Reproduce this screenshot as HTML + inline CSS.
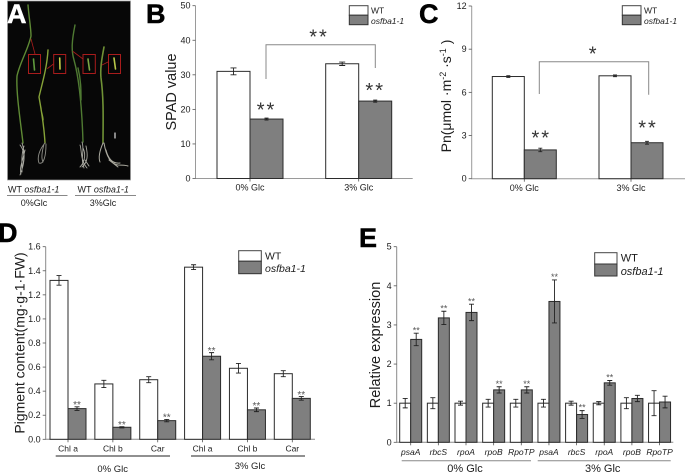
<!DOCTYPE html>
<html>
<head>
<meta charset="utf-8">
<style>
html,body{margin:0;padding:0;background:#fff;width:685px;height:475px;overflow:hidden}
svg{display:block;font-family:"Liberation Sans",sans-serif;filter:blur(0.3px)}
text{fill:#1c1c1c}
.letter{font-weight:bold;font-size:27px;fill:#000;stroke:#000;stroke-width:0.5px}
</style>
</head>
<body>
<svg id="fig" xmlns="http://www.w3.org/2000/svg" width="685" height="475" viewBox="0 0 685 475">
  <defs><filter id="soft" x="-5%" y="-5%" width="110%" height="110%"><feGaussianBlur stdDeviation="0.3"/></filter></defs>
  <g id="photo">
    <rect x="7.5" y="1" width="123" height="179" fill="#070707" stroke="#999" stroke-width="0.7"/>
    <g filter="url(#soft)" fill="none" stroke-linecap="round">
      <path d="M28 5 C29 18 31 28 31 36 C28 50 20 62 17 76 C16 92 20 118 23 143" stroke="#5f8a34" stroke-width="1.4"/>
      <path d="M48 50 C47 68 42 84 39 97 C41 108 44 125 45 143 M41 108 C41 112 43 116 43 120" stroke="#86a338" stroke-width="1.4"/>
      <path d="M75 25 C72 40 71 50 74 60 C79 78 82 110 83 142 M78 68 C81 80 81 90 81 100" stroke="#4f7a32" stroke-width="1.4"/>
      <path d="M104 47 C102 58 100 68 101 78 C104 100 103 125 103 143" stroke="#6f9236" stroke-width="1.6"/>
      <path d="M22 143 C26 155 24 165 20 175 M24 146 C21 155 22 165 22 172 M20 145 C24 150 25 158 22 168 M25 150 C23 160 19 168 21 174" stroke="#a8a8a0" stroke-width="0.9"/>
      <path d="M45 143 C39 150 37 158 39 163 C44 165 46 155 46 144 M44 144 C42 152 41 158 43 162" stroke="#8f8f88" stroke-width="0.9"/>
      <path d="M82 142 C85 150 80 158 84 168 M86 146 C88 155 88 162 82 167 M80 145 C82 150 80 160 87 168 M83 148 C87 156 83 164 80 167 M85 160 L89 166" stroke="#a8a8a0" stroke-width="0.9"/>
      <path d="M103 143 C100 150 98 157 100 162 M104 143 C106 155 110 164 118 165 C122 165 125 165 128 166 M106 150 C108 158 112 164 120 163 M109 160 L118 167" stroke="#aaa99e" stroke-width="1"/>
      <path d="M115 133 V138" stroke="#ddd" stroke-width="1.2"/>
      <path d="M31 39 L35 54 M47.500 68.500 L53.500 64 M73 51.500 L83 59 M102 65 L108 62" stroke="#a81c1c" stroke-width="0.8"/>
      <path d="M33.500 59 L34.500 70" stroke="#5f9a3c" stroke-width="1.6"/>
      <path d="M59.700 58 L60 69" stroke="#c8d048" stroke-width="1.6"/>
      <path d="M88 59 L89.500 70" stroke="#7ba844" stroke-width="1.6"/>
      <path d="M114 58 L115.500 69" stroke="#b8c848" stroke-width="1.6"/>
    </g>
    <g fill="none" stroke="#a81c1c" stroke-width="1">
      <rect x="28.500" y="54.500" width="12" height="19"/>
      <rect x="53.700" y="54.500" width="12" height="19"/>
      <rect x="83" y="54.500" width="12.300" height="19"/>
      <rect x="108.500" y="54.500" width="12" height="19"/>
    </g>
    <text x="8" y="192.500" font-size="9">WT <tspan font-style="italic">osfba1-1</tspan></text>
    <text x="77.500" y="192.500" font-size="9">WT <tspan font-style="italic">osfba1-1</tspan></text>
    <path d="M7 195.500 H67.500 M75 195.500 H136" stroke="#888" stroke-width="1" fill="none"/>
    <text x="34" y="206" font-size="9" text-anchor="middle">0%Glc</text>
    <text x="103" y="206" font-size="9" text-anchor="middle">3%Glc</text>
  </g>
  <text class="letter" x="7" y="23" style="fill:#fff;stroke:#fff">A</text>
  <text class="letter" x="146" y="23">B</text>
  <text class="letter" x="419" y="23">C</text>
  <text class="letter" x="-2" y="242">D</text>
  <text class="letter" x="359" y="247">E</text>
</svg>
<script>
// Panel B: SPAD value
const bGroups = ['0% Glc', '3% Glc'];
const bTicks = [0, 10, 20, 30, 40, 50];
const bWT = [31, 33.2];
const bWTErr = [1, 0.5];
const bMut = [17.2, 22.4];
const bMutErr = [0.3, 0.3];

// Panel C: photosynthesis rate
const cGroups = ['0% Glc', '3% Glc'];
const cTicks = [0, 3, 6, 9, 12];
const cWT = [7.1, 7.15];
const cWTErr = [0.06, 0.06];
const cMut = [2, 2.5];
const cMutErr = [0.12, 0.1];

// Panel D: pigment content
const dCategories = ['Chl a', 'Chl b', 'Car', 'Chl a', 'Chl b', 'Car'];
const dTicks = ['0.0', '0.2', '0.4', '0.6', '0.8', '1.0', '1.2', '1.4', '1.6'];
const dWT = [1.32, 0.46, 0.495, 1.43, 0.59, 0.545];
const dWTErr = [0.04, 0.03, 0.025, 0.02, 0.04, 0.025];
const dMut = [0.255, 0.1, 0.155, 0.69, 0.245, 0.34];
const dMutErr = [0.015, 0.005, 0.01, 0.03, 0.015, 0.015];
const dStars = ['**', '**', '**', '**', '**', '**'];

// Panel E: relative expression
const eCategories = ['psaA', 'rbcS', 'rpoA', 'rpoB', 'RpoTP', 'psaA', 'rbcS', 'rpoA', 'rpoB', 'RpoTP'];
const eTicks = [0, 1, 2, 3, 4, 5];
const eWT = [1, 1, 1, 1, 1, 1, 1, 1, 1, 1];
const eWTErr = [0.12, 0.14, 0.05, 0.1, 0.1, 0.1, 0.05, 0.04, 0.14, 0.32];
const eMut = [2.63, 3.18, 3.32, 1.34, 1.34, 3.6, 0.71, 1.52, 1.12, 1.03];
const eMutErr = [0.16, 0.17, 0.21, 0.08, 0.08, 0.55, 0.1, 0.06, 0.08, 0.15];
const eStars = ['**', '**', '**', '**', '**', '**', '**', '**', '', ''];

const svg = document.getElementById('fig');
const NS = 'http://www.w3.org/2000/svg';

function mk(tag, parent, props, txt) {
  const el = document.createElementNS(NS, tag);
  for (const k in props) el.setAttribute(k, props[k]);
  if (txt !== undefined) el.textContent = txt;
  parent.appendChild(el);
  return el;
}

function linear(d0, d1, r0, r1) {
  return v => r0 + (v - d0) * (r1 - r0) / (d1 - d0);
}

function label(parent, name, x, y, size, txt, anchor, italic) {
  const el = mk('text', parent, { x: x, y: y, 'font-size': size, 'text-anchor': anchor || 'middle', 'font-style': italic ? 'italic' : 'normal' }, txt);
  
  
  return el;
}

function stars(parent, name, cx, cy, size, txt, gap, color) {
  const el = mk('text', parent, { x: cx, y: cy + size * 0.57, 'font-size': size, 'text-anchor': 'middle', 'letter-spacing': gap, fill: color }, txt);
  el.style.fill = color;
  
  
}

function bar(parent, name, x, w, y0, yv, fill, errPix, capW) {
  const r = mk('rect', parent, { x: x, y: yv, width: w, height: y0 - yv, fill: fill, stroke: '#2b2b2b', 'stroke-width': 1 });
  
  
  const cx = x + w / 2;
  const e = mk('path', parent, {
    d: 'M' + cx + ' ' + (yv - errPix) + 'V' + (yv + errPix) +
       'M' + (cx - capW) + ' ' + (yv - errPix) + 'H' + (cx + capW) +
       'M' + (cx - capW) + ' ' + (yv + errPix) + 'H' + (cx + capW),
    stroke: '#222', 'stroke-width': 0.9, fill: 'none'
  });
  
  
}

function axes(parent, prefix, x, x1, y, ticks, tickX, xTicks, axisColor) {
  const a = mk('path', parent, { d: 'M' + x + ' ' + tickX(ticks[ticks.length - 1]) + 'V' + y + 'H' + x1, stroke: axisColor, 'stroke-width': 1, fill: 'none' });
  
  
  ticks.forEach(t => {
    const yy = tickX(t);
    const m = mk('path', parent, { d: 'M' + (x - 3) + ' ' + yy + 'H' + x, stroke: '#555', 'stroke-width': 0.8 });
    
    
    label(parent, prefix + '-y-tick-label', x - 5, yy + 3, 9, String(t), 'end');
  });
  xTicks.forEach(px => {
    const m = mk('path', parent, { d: 'M' + px + ' ' + y + 'v3', stroke: '#555', 'stroke-width': 0.8 });
    
    
  });
}

function legend(parent, prefix, x, y, w, h1, h2, size, tx, b1, b2) {
  const g = mk('g', parent, {});
  
  
  const r1 = mk('rect', g, { x: x, y: y, width: w, height: h1, fill: '#fff', stroke: '#444', 'stroke-width': 1 });
  
  
  const r2 = mk('rect', g, { x: x, y: y + h1, width: w, height: h2, fill: '#7f7f7f', stroke: '#333', 'stroke-width': 1 });
  
  
  label(g, 'legend-label-wt', tx, b1, size, 'WT', 'start');
  label(g, 'legend-label-mutant', tx, b2, size, 'osfba1-1', 'start', true);
}

function ylab(parent, name, x, y, size, build) {
  const t = mk('text', parent, { transform: 'translate(' + x + ' ' + y + ') rotate(-90)', 'font-size': size, 'text-anchor': 'middle' });
  
  
  build(t);
}

// ---------- Panel B ----------
const gB = mk('g', svg, {});


const yB = linear(0, 50, 178.5, 5.7);
const xB = i => 217 + i * 108.7;
axes(gB, 'spad', 195.5, 412.7, 178.5, bTicks, yB, [xB(0) + 33, xB(1) + 33], '#9a9a9a');
bWT.forEach((v, i) => {
  bar(gB, 'spad-bar-wt', xB(i), 33, yB(0), yB(v), '#fff', yB(0) - yB(bWTErr[i]), 3);
  bar(gB, 'spad-bar-mutant', xB(i) + 33, 33, yB(0), yB(bMut[i]), '#7f7f7f', yB(0) - yB(bMutErr[i]), 2);
  label(gB, 'spad-x-label', xB(i) + 33, 190.500, 9, bGroups[i]);
  stars(gB, 'spad-significance', xB(i) + 49.500, yB(bMut[i] + bMutErr[i]) - 13 - i * 1.500, 20, '**', 2, '#333');
});
const brB = mk('path', gB, { d: 'M266 79V44.700H375.300V68', stroke: '#888', 'stroke-width': 1, fill: 'none' });


stars(gB, 'spad-comparison-significance', 319, 32, 20, '**', 2, '#333');
ylab(gB, 'spad-y-axis-title', 176, 92, 14.500, t => { t.textContent = 'SPAD value'; });
legend(gB, 'spad', 349.300, 5.700, 18.700, 9.500, 9.500, 8.500, 371, 13.500, 24);

// ---------- Panel C ----------
const gC = mk('g', svg, {});


const yC = linear(0, 12, 178.7, 6);
const xC = i => 492.300 + i * 106.700;
axes(gC, 'pn', 471.700, 685, 178.7, cTicks, yC, [xC(0) + 32, xC(1) + 32], '#9a9a9a');
cWT.forEach((v, i) => {
  bar(gC, 'pn-bar-wt', xC(i), 32, yC(0), yC(v), '#fff', yC(0) - yC(cWTErr[i]), 2);
  bar(gC, 'pn-bar-mutant', xC(i) + 32, 32, yC(0), yC(cMut[i]), '#7f7f7f', yC(0) - yC(cMutErr[i]), 2);
  label(gC, 'pn-x-label', xC(i) + 32, 191, 9, cGroups[i]);
  stars(gC, 'pn-significance', xC(i) + 49, yC(cMut[i] + cMutErr[i]) - 15 - i * 3, 20, '**', 2, '#333');
});
const brC = mk('path', gC, { d: 'M539.300 94V61.700H648.700V94.700', stroke: '#888', 'stroke-width': 1, fill: 'none' });


stars(gC, 'pn-comparison-significance', 592.700, 49, 20, '*', 0, '#333');
ylab(gC, 'pn-y-axis-title', 451, 96, 14, t => {
  mk('tspan', t, {}, 'Pn(μmol ·m');
  mk('tspan', t, { dy: -5, 'font-size': 9 }, '-2');
  mk('tspan', t, { dy: 5 }, ' ·s');
  mk('tspan', t, { dy: -5, 'font-size': 9 }, '-1');
  mk('tspan', t, { dy: 5 }, ' )');
});
legend(gC, 'pn', 622.300, 5.700, 18.700, 9.500, 9.500, 8.500, 644, 13.500, 24);

// ---------- Panel D ----------
const gD = mk('g', svg, {});


const yD = linear(0, 1.6, 439.3, 246.7);
const xD = i => 50 + i * 44.860;
axes(gD, 'pigment', 45.700, 315, 439.3, dTicks, t => yD(Number(t)), dCategories.map((c, i) => xD(i) + 18), '#8a8a8a');
dWT.forEach((v, i) => {
  bar(gD, 'pigment-bar-wt', xD(i), 18, yD(0), yD(v), '#fff', yD(0) - yD(dWTErr[i]), 2.500);
  bar(gD, 'pigment-bar-mutant', xD(i) + 18, 18, yD(0), yD(dMut[i]), '#7f7f7f', yD(0) - yD(dMutErr[i]), 2.500);
  label(gD, 'pigment-x-label', xD(i) + 18, 451.700, 8.5, dCategories[i]);
  stars(gD, 'pigment-significance', xD(i) + 27, yD(dMut[i] + dMutErr[i]) - 4.500, 10, dStars[i], 0, '#555');
});
const rulesD = mk('path', gD, { d: 'M55.700 456H170M191 456H305', stroke: '#222', 'stroke-width': 0.9, fill: 'none' });


label(gD, 'pigment-group-0-glc', 112.700, 472, 9.5, '0% Glc');
label(gD, 'pigment-group-3-glc', 250, 469, 9.5, '3% Glc');
ylab(gD, 'pigment-y-axis-title', 24.500, 343, 14, t => { t.textContent = 'Pigment content(mg·g-1·FW)'; });
legend(gD, 'pigment', 238.700, 250.700, 22.600, 10.500, 12.500, 10.500, 265, 259.500, 272);

// ---------- Panel E ----------
const gE = mk('g', svg, {});


const yE = linear(0, 5, 442.3, 246.7);
const xE = i => 399.700 + i * 27.650;
axes(gE, 'expression', 396.700, 673.300, 442.3, eTicks, yE, eCategories.map((c, i) => xE(i) + 11), '#8a8a8a');
eWT.forEach((v, i) => {
  bar(gE, 'expression-bar-wt', xE(i), 11, yE(0), yE(v), '#fff', yE(0) - yE(eWTErr[i]), 2.500);
  bar(gE, 'expression-bar-mutant', xE(i) + 11, 11, yE(0), yE(eMut[i]), '#7f7f7f', yE(0) - yE(eMutErr[i]), 2.500);
  label(gE, 'expression-x-label', xE(i) + 11, 455, 8.5, eCategories[i], 'middle', true);
  if (eStars[i]) stars(gE, 'expression-significance', xE(i) + 16.500, yE(eMut[i] + eMutErr[i]) - 5, 9, eStars[i], 0, '#555');
});
const rulesE = mk('path', gE, { d: 'M401.700 460.700H531M537.700 460.700H670.700', stroke: '#888', 'stroke-width': 1, fill: 'none' });


label(gE, 'expression-group-0-glc', 465, 472, 11, '0% Glc');
label(gE, 'expression-group-3-glc', 602.700, 472, 11, '3% Glc');
ylab(gE, 'expression-y-axis-title', 380, 345, 14.500, t => { t.textContent = 'Relative expression'; });
legend(gE, 'expression', 594.700, 252.700, 22.300, 11.300, 12, 11, 620.700, 261.700, 275);
</script>
</body>
</html>
